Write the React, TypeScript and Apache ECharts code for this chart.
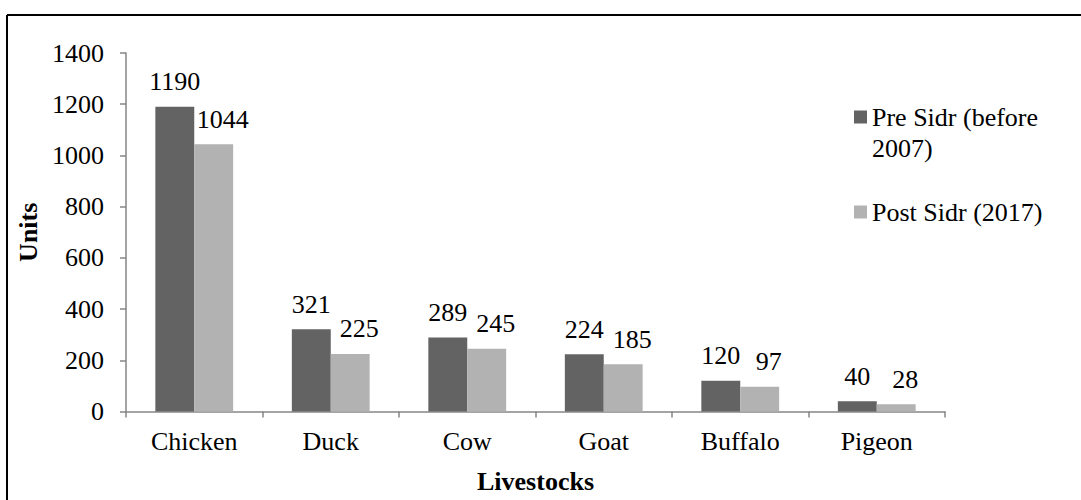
import React, { useEffect, useRef } from "react";
import * as echarts from "echarts";

const categories = ["Chicken", "Duck", "Cow", "Goat", "Buffalo", "Pigeon"];
const preSidr = [1190, 321, 289, 224, 120, 40];
const postSidr = [1044, 225, 245, 185, 97, 28];
const seriesNames = ["Pre Sidr (before 2007)", "Post Sidr (2017)"];
const legendTexts = ["\nPre Sidr (before\n2007)", "Post Sidr (2017)"];

const FONT = "Liberation Serif";

export default function App() {
  const ref = useRef<HTMLDivElement>(null);
  useEffect(() => {
    if (!ref.current) return;
    const chart = echarts.init(ref.current, null, { renderer: "svg" });
    const axisColor = "#868686";
    const labelStyle = { fontFamily: FONT, fontSize: 26, color: "#000" };
    chart.setOption({
      animation: false,
      backgroundColor: "#fff",
      textStyle: { fontFamily: FONT },
      grid: { left: 126, right: 136, top: 53, bottom: 88.5 },
      graphic: [
        { type: "line", shape: { x1: 7, y1: 15, x2: 1081, y2: 15 }, style: { stroke: "#000", lineWidth: 2 } },
        { type: "line", shape: { x1: 7, y1: 15, x2: 7, y2: 500 }, style: { stroke: "#000", lineWidth: 2 } },
      ],
      legend: [
        {
          data: [seriesNames[0]],
          left: 854,
          top: 70.5,
          padding: 0,
          icon: "rect",
          itemWidth: 13,
          itemHeight: 13,
          formatter: () => legendTexts[0],
          textStyle: { ...labelStyle, lineHeight: 31 },
        },
        {
          data: [seriesNames[1]],
          left: 854,
          top: 196.5,
          padding: 0,
          icon: "rect",
          itemWidth: 13,
          itemHeight: 13,
          formatter: () => legendTexts[1],
          textStyle: { ...labelStyle, lineHeight: 31 },
        },
      ],
      xAxis: {
        type: "category",
        data: categories,
        name: "Livestocks",
        nameLocation: "middle",
        nameGap: 57,
        nameTextStyle: { ...labelStyle, fontWeight: "bold" },
        axisLine: { lineStyle: { color: axisColor, width: 1.5 } },
        axisTick: { show: true, length: 6, interval: 0, lineStyle: { color: axisColor, width: 1.5 } },
        axisLabel: { ...labelStyle, margin: 17, interval: 0 },
        splitLine: { show: false },
      },
      yAxis: {
        type: "value",
        min: 0,
        max: 1400,
        interval: 200,
        name: "Units",
        nameLocation: "middle",
        nameGap: 72,
        nameTextStyle: { ...labelStyle, fontWeight: "bold" },
        axisLine: { show: true, lineStyle: { color: axisColor, width: 1.5 } },
        axisTick: { show: true, length: 6, lineStyle: { color: axisColor, width: 1.5 } },
        axisLabel: { ...labelStyle, margin: 22, formatter: (v: number) => String(v) },
        splitLine: { show: false },
      },
      series: [
        {
          name: seriesNames[0],
          type: "bar",
          data: preSidr,
          barGap: "0%",
          barCategoryGap: "43%",
          itemStyle: { color: "#636363" },
          label: { show: true, position: "top", distance: 12, ...labelStyle },
        },
        {
          name: seriesNames[1],
          type: "bar",
          data: postSidr,
          barGap: "0%",
          barCategoryGap: "43%",
          itemStyle: { color: "#b2b2b2" },
          label: { show: true, position: "top", distance: 12, offset: [9, 0], ...labelStyle },
        },
      ],
    });
    return () => chart.dispose();
  }, []);
  return (
    <div
      ref={ref}
      style={{ position: "absolute", left: 0, top: 0, width: 1081, height: 500 }}
    />
  );
}
